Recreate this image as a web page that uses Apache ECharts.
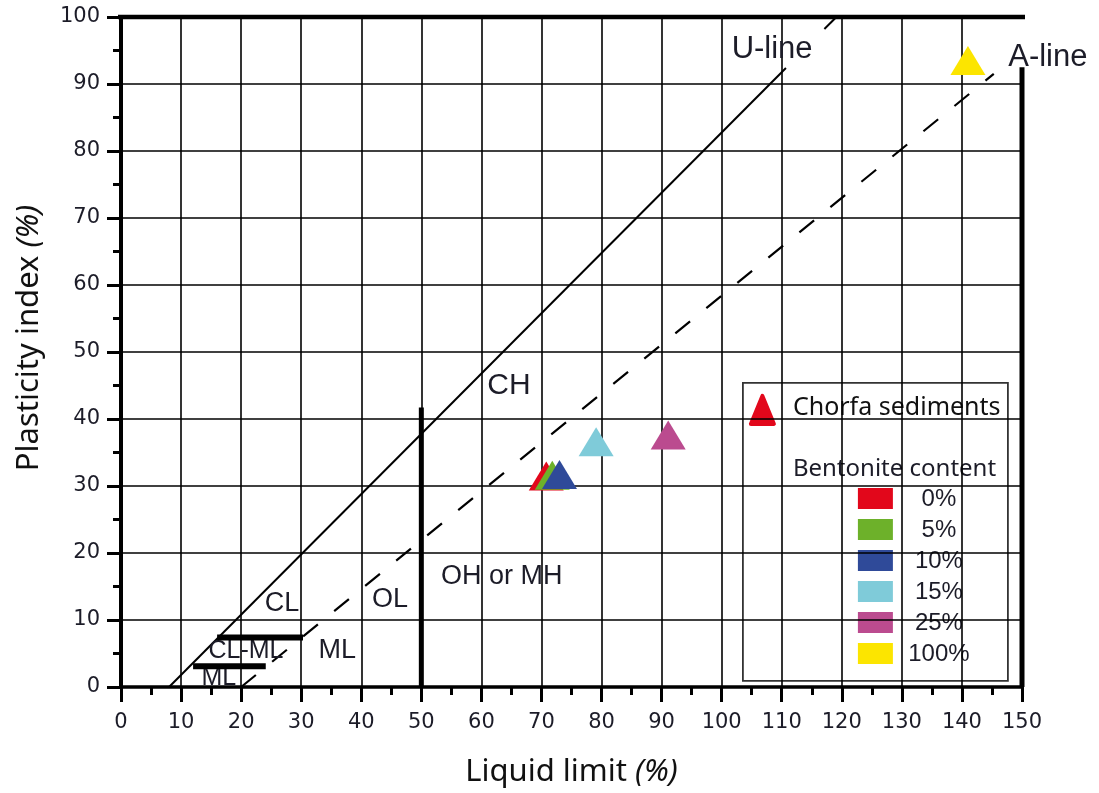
<!DOCTYPE html>
<html><head><meta charset="utf-8">
<script src="https://cdn.jsdelivr.net/npm/echarts@6/dist/echarts.min.js"></script>
<style>html,body{margin:0;padding:0;background:#fff}#c{width:1099px;height:793px}</style>
</head><body><div id="c"></div>
<script>
// ---- data ----
const sampleLabels = ['0%', '5%', '10%', '15%', '25%', '100%'];
const sampleColors = ['#e2071b', '#6db12a', '#2f4a99', '#7fcbd9', '#bb4b8f', '#fce500'];
const liquidLimit = [70.8, 71.8, 73.0, 79.1, 91.1, 141.0];
const plasticityIndex = [31.5, 31.6, 31.7, 36.6, 37.6, 93.5];

const uLineLower = [[8, 0], [110.7, 92.4]];
const uLineUpper = [[117.1, 98.2], [119.1, 100]];
const aLine = [[20, 0], [145.3, 91.5]];
const boundaryLL50 = [[50, 0], [50, 41.7]];
const boundaryLL150 = [[150, 0], [150, 92.5]];
const clmlUpper = [[16, 7.4], [30.3, 7.4]];
const clmlLower = [[12, 3.1], [24.1, 3.1]];
const topBorder = [[-2.3, 100], [152.4, 100]];

const zoneNames = ['CH', 'CL', 'OL', 'OH or MH', 'ML', 'CL-ML', 'ML'];
const zoneLL = [64.6, 26.8, 44.8, 63.4, 36.0, 20.8, 16.3];
const zonePI = [44.9, 12.5, 13.1, 16.5, 5.5, 5.4, 1.3];
const lineNames = ['U-line', 'A-line'];
const lineNameLL = [108.4, 154.3];
const lineNamePI = [95.1, 94.0];

const legendTitle = 'Chorfa sediments';
const legendSubtitle = 'Bentonite content';

// ---- chart ----
const txt = '#1c1c28';
const chart = echarts.init(document.getElementById('c'));

function seg(data, width, z, type) {
  return {
    type: 'line', data: data, symbol: 'none', silent: true, clip: false, z: z,
    lineStyle: { color: '#000', width: width, type: type || 'solid', cap: 'butt' },
    animation: false
  };
}

const zoneData = zoneNames.map((n, i) => ({
  value: [zoneLL[i], zonePI[i]], name: n,
  label: { fontSize: n === 'CH' ? 30 : (n === 'CL-ML' || (n === 'ML' && i === 6) ? 25 : 27) }
}));
const lineNameData = lineNames.map((n, i) => ({
  value: [lineNameLL[i], lineNamePI[i]], name: n, label: { fontSize: 31 }
}));

const legendChildren = [
  { type: 'rect', shape: { x: 0, y: 0, width: 265, height: 298 },
    style: { fill: '#fff', stroke: '#333', lineWidth: 1.8 } },
  { type: 'polygon', shape: { points: [[8, 41], [19.5, 13], [31, 41]] },
    style: { fill: sampleColors[0], stroke: sampleColors[0], lineWidth: 4, lineJoin: 'round' } },
  { type: 'text', x: 50, y: 25, style: { text: legendTitle, fontFamily: 'Noto Sans', fontSize: 25,
    fill: '#111', verticalAlign: 'middle', align: 'left' } },
  { type: 'text', x: 50, y: 86, style: { text: legendSubtitle, fontFamily: 'Noto Sans', fontSize: 24,
    fill: txt, verticalAlign: 'middle', align: 'left' } }
];
sampleLabels.forEach((lab, i) => {
  const top = 105 + i * 31;
  legendChildren.push({ type: 'rect', shape: { x: 115, y: top, width: 35, height: 21 },
    style: { fill: sampleColors[i] } });
  legendChildren.push({ type: 'text', x: 196, y: top + 11, style: { text: lab,
    fontFamily: 'Liberation Sans', fontSize: 24, fill: txt, align: 'center', verticalAlign: 'middle' } });
});

const option = {
  animation: false,
  backgroundColor: '#fff',
  grid: { left: 121, right: 77, top: 17, bottom: 104, containLabel: false },
  xAxis: {
    type: 'value', min: 0, max: 150, interval: 10,
    name: '{a|Liquid limit }{b|(%)}', nameLocation: 'middle', nameGap: 70,
    nameTextStyle: { rich: {
      a: { fontFamily: 'Noto Sans', fontSize: 31, color: '#111' },
      b: { fontFamily: 'Noto Sans', fontSize: 31, color: '#111', fontStyle: 'italic' } } },
    axisLine: { show: true, onZero: false, lineStyle: { color: '#000', width: 3.5 } },
    axisTick: { show: true, inside: false, length: 15, lineStyle: { color: '#000', width: 3 } },
    minorTick: { show: true, splitNumber: 2, length: 8, lineStyle: { color: '#000', width: 3 } },
    splitLine: { show: true, showMinLine: false, showMaxLine: false, lineStyle: { color: '#000', width: 1.6 } },
    axisLabel: { margin: 25, fontFamily: 'DejaVu Sans', fontSize: 21, color: txt }
  },
  yAxis: {
    type: 'value', min: 0, max: 100, interval: 10,
    name: '{a|Plasticity index }{b|(%)}', nameLocation: 'middle', nameGap: 76,
    nameTextStyle: { padding: [0, 0, 0, 28], rich: {
      a: { fontFamily: 'Noto Sans', fontSize: 31, color: '#111' },
      b: { fontFamily: 'Noto Sans', fontSize: 31, color: '#111', fontStyle: 'italic' } } },
    axisLine: { show: true, onZero: false, lineStyle: { color: '#000', width: 4 } },
    axisTick: { show: true, inside: false, length: 14, lineStyle: { color: '#000', width: 3 } },
    minorTick: { show: true, splitNumber: 2, length: 8, lineStyle: { color: '#000', width: 3 } },
    splitLine: { show: true, showMinLine: false, showMaxLine: false, lineStyle: { color: '#000', width: 1.6 } },
    axisLabel: { margin: 21, fontFamily: 'DejaVu Sans', fontSize: 21, color: txt }
  },
  series: [
    seg(uLineLower, 2, 3),
    seg(uLineUpper, 2, 3),
    seg(aLine, 2.2, 3, [19, 21]),
    {
      type: 'scatter', data: zoneData, symbolSize: 0, clip: false, z: 4, silent: true,
      itemStyle: { opacity: 1 },
      label: { show: true, position: 'inside', formatter: '{b}', fontFamily: 'Liberation Sans',
        color: txt, opacity: 1 }
    },
    seg(boundaryLL50, 5, 5),
    seg(boundaryLL150, 5, 5),
    seg(clmlUpper, 6, 5),
    seg(clmlLower, 6, 5),
    seg(topBorder, 4.5, 5),
    {
      type: 'scatter', data: lineNameData, symbolSize: 0, clip: false, z: 6, silent: true,
      itemStyle: { opacity: 1 },
      label: { show: true, position: 'inside', formatter: '{b}', fontFamily: 'Liberation Sans',
        color: txt, opacity: 1 }
    },
    {
      type: 'scatter', symbol: 'triangle', symbolSize: [35, 29], clip: false, z: 7,
      data: liquidLimit.map((x, i) => ({ value: [x, plasticityIndex[i]], name: sampleLabels[i],
        itemStyle: { color: sampleColors[i], opacity: 1 } }))
    }
  ],
  graphic: [{ type: 'group', left: 742, top: 382, z: 100, children: legendChildren }]
};
chart.setOption(option);
</script></body></html>
